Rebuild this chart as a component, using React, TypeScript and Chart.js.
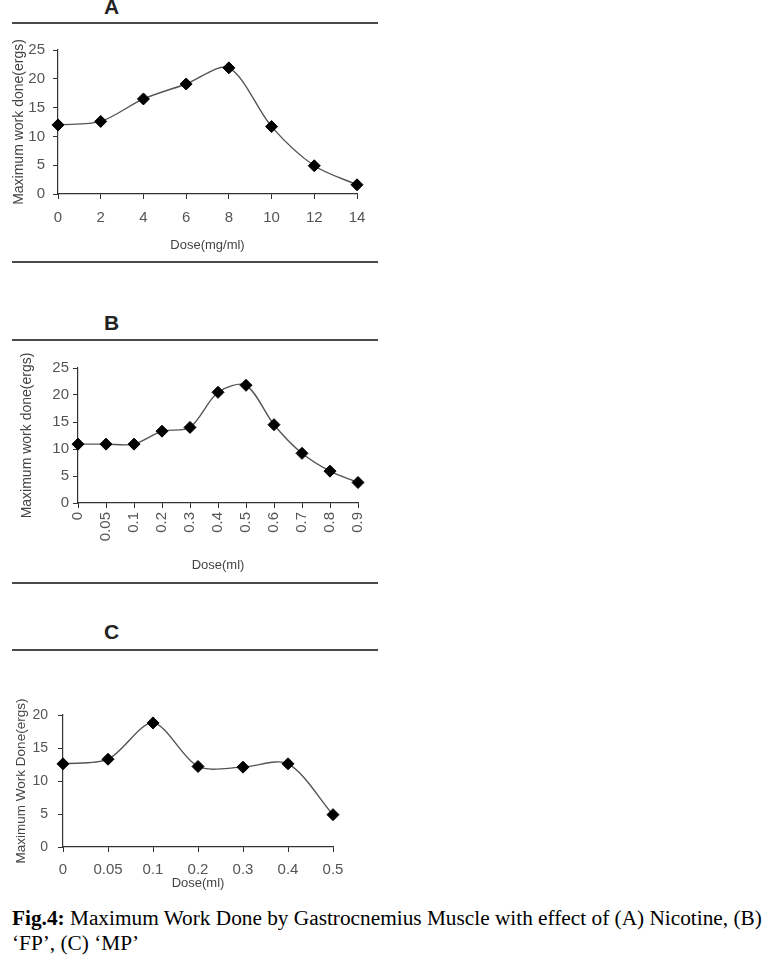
import React, { useEffect, useRef } from "react";
import { Chart, registerables } from "chart.js";

Chart.register(...registerables);

// ---- Data ----
const dosesA = ["0", "2", "4", "6", "8", "10", "12", "14"];
const workA = [12.0, 12.6, 16.5, 19.1, 21.9, 11.7, 4.9, 1.6];

const dosesB = ["0", "0.05", "0.1", "0.2", "0.3", "0.4", "0.5", "0.6", "0.7", "0.8", "0.9"];
const workB = [10.9, 10.9, 10.9, 13.3, 14.0, 20.5, 21.8, 14.5, 9.2, 5.9, 3.8];

const dosesC = ["0", "0.05", "0.1", "0.2", "0.3", "0.4", "0.5"];
const workC = [12.6, 13.3, 18.8, 12.2, 12.1, 12.6, 4.9];

const yMaxA = 25;
const yMaxB = 25;
const yMaxC = 20;
const yStep = 5;

const xTitleA = "Dose(mg/ml)";
const xTitleB = "Dose(ml)";
const xTitleC = "Dose(ml)";
const yTitleA = "Maximum work done(ergs)";
const yTitleB = "Maximum work done(ergs)";
const yTitleC = "Maximum Work Done(ergs)";

const FONT = "'Liberation Sans', Arial, sans-serif";

type PanelProps = {
  labels: string[];
  values: number[];
  yMax: number;
  xTitle: string;
  yTitle: string;
  left: number;
  top: number;
  width: number;
  height: number;
  padTop: number;
  padRight: number;
  yW: number;
  xH: number;
  rot: number;
  xTickPad: number;
  yTickPad: number;
  xFont: number;
  yFont: number;
  xTitlePadB: number;
  yTitlePad: number;
  yTitleFont: number;
};

function Panel(p: PanelProps) {
  const ref = useRef<HTMLCanvasElement | null>(null);
  useEffect(() => {
    if (!ref.current) return;
    const chart = new Chart(ref.current, {
      type: "line",
      data: {
        labels: p.labels,
        datasets: [
          {
            data: p.values,
            borderColor: "#555",
            borderWidth: 1.4,
            tension: 0.3,
            fill: false,
            pointStyle: "rectRot",
            pointRadius: 6,
            pointHoverRadius: 6,
            pointBackgroundColor: "#000",
            pointBorderColor: "#000",
            pointBorderWidth: 1,
            clip: false,
          } as any,
        ],
      },
      options: {
        responsive: false,
        animation: false,
        events: [],
        layout: { padding: { left: 0, top: p.padTop, right: p.padRight, bottom: 0 } },
        plugins: { legend: { display: false }, tooltip: { enabled: false }, title: { display: false } },
        scales: {
          x: {
            type: "category",
            offset: false,
            grid: { display: true, drawOnChartArea: false, drawTicks: true, tickLength: 5, color: "#333" },
            border: { display: true, color: "#333", width: 1.2 },
            ticks: {
              autoSkip: false,
              maxRotation: p.rot,
              minRotation: p.rot,
              padding: p.xTickPad,
              color: "#555",
              font: { family: FONT, size: p.xFont },
            },
            title: {
              display: true,
              text: p.xTitle,
              color: "#444",
              font: { family: FONT, size: 13 },
              padding: { top: 0, bottom: p.xTitlePadB },
            },
            afterFit: (s: any) => {
              s.height = p.xH;
            },
          },
          y: {
            min: 0,
            max: p.yMax,
            grid: { display: true, drawOnChartArea: false, drawTicks: true, tickLength: 5, color: "#333" },
            border: { display: true, color: "#333", width: 1.2 },
            ticks: {
              stepSize: yStep,
              padding: p.yTickPad,
              color: "#555",
              font: { family: FONT, size: p.yFont },
            },
            title: {
              display: true,
              text: p.yTitle,
              color: "#444",
              font: { family: FONT, size: p.yTitleFont },
              padding: { top: p.yTitlePad, bottom: 0 },
            },
            afterFit: (s: any) => {
              s.width = p.yW;
            },
          },
        },
      } as any,
    });
    return () => chart.destroy();
  }, []);
  return (
    <canvas
      ref={ref}
      width={p.width}
      height={p.height}
      style={{ position: "absolute", left: p.left, top: p.top, width: p.width, height: p.height }}
    />
  );
}

const ruleStyle = (top: number): React.CSSProperties => ({
  position: "absolute",
  left: 12,
  top,
  width: 366,
  height: 2,
  background: "#4a4a4a",
});

const letterStyle = (top: number): React.CSSProperties => ({
  position: "absolute",
  left: 104,
  top,
  fontFamily: FONT,
  fontWeight: "bold",
  fontSize: 21,
  lineHeight: "22px",
  color: "#222",
});

const captionStyle = (top: number): React.CSSProperties => ({
  position: "absolute",
  left: 12,
  top,
  fontFamily: "'Liberation Serif', 'Times New Roman', serif",
  fontSize: 21.3,
  lineHeight: "24px",
  whiteSpace: "nowrap",
  color: "#000",
});

export default function App() {
  return (
    <div style={{ position: "absolute", left: 0, top: 0, width: 770, height: 964, background: "#fff" }}>
      <div style={letterStyle(-4)}>A</div>
      <div style={ruleStyle(22)} />
      <Panel
        labels={dosesA}
        values={workA}
        yMax={yMaxA}
        xTitle={xTitleA}
        yTitle={yTitleA}
        left={0}
        top={30}
        width={380}
        height={225}
        padTop={20}
        padRight={23}
        yW={58}
        xH={61}
        rot={0}
        xTickPad={10}
        yTickPad={8}
        xFont={15}
        yFont={15}
        xTitlePadB={2}
        yTitlePad={11}
        yTitleFont={14}
      />
      <div style={ruleStyle(261)} />

      <div style={letterStyle(312)}>B</div>
      <div style={ruleStyle(339)} />
      <Panel
        labels={dosesB}
        values={workB}
        yMax={yMaxB}
        xTitle={xTitleB}
        yTitle={yTitleB}
        left={0}
        top={345}
        width={380}
        height={235}
        padTop={23}
        padRight={17}
        yW={78}
        xH={77}
        rot={90}
        xTickPad={4}
        yTickPad={4}
        xFont={15}
        yFont={15}
        xTitlePadB={7}
        yTitlePad={19}
        yTitleFont={14}
      />
      <div style={ruleStyle(582)} />

      <div style={letterStyle(621)}>C</div>
      <div style={ruleStyle(649)} />
      <Panel
        labels={dosesC}
        values={workC}
        yMax={yMaxC}
        xTitle={xTitleC}
        yTitle={yTitleC}
        left={0}
        top={660}
        width={380}
        height={231}
        padTop={55}
        padRight={47}
        yW={63}
        xH={44}
        rot={0}
        xTickPad={9}
        yTickPad={10}
        xFont={15}
        yFont={14}
        xTitlePadB={0}
        yTitlePad={13}
        yTitleFont={13.5}
      />

      <div style={captionStyle(906)}>
        <b>Fig.4:</b> Maximum Work Done by Gastrocnemius Muscle with effect of (A) Nicotine, (B)
      </div>
      <div style={captionStyle(931)}>‘FP’, (C) ‘MP’</div>
    </div>
  );
}
